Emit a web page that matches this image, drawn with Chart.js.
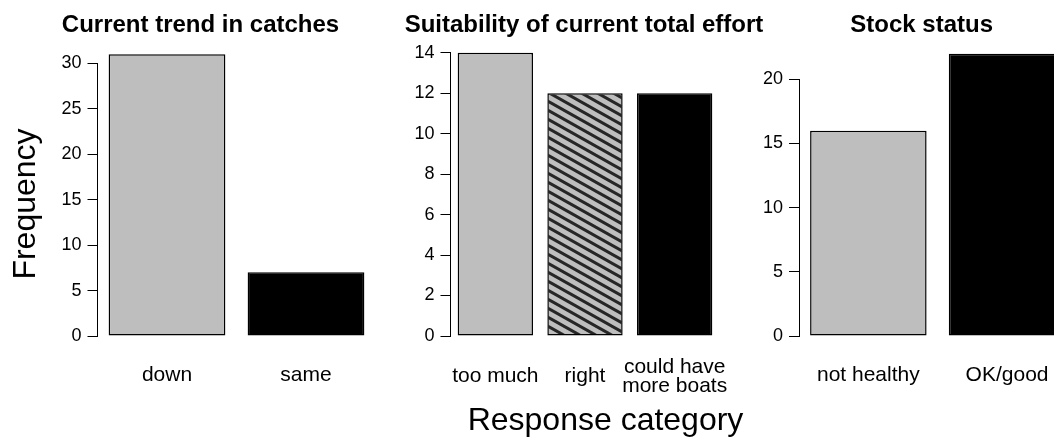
<!DOCTYPE html>
<html>
<head>
<meta charset="utf-8">
<script src="https://cdn.jsdelivr.net/npm/chart.js@4.4.1/dist/chart.umd.min.js"></script>
<style>
  html, body { margin: 0; padding: 0; width: 1054px; height: 439px; overflow: hidden; background: #fff; }
  body { position: relative; font-family: "Liberation Sans", Arial, Helvetica, sans-serif; }
  canvas { position: absolute; top: 0; }
  .axlab { position: absolute; white-space: nowrap; color: #000; font-size: 32px; line-height: 32px; text-align: center; }
</style>
</head>
<body>
<canvas id="c1" width="400" height="439" style="left:0px"></canvas>
<canvas id="c2" width="400" height="439" style="left:400px"></canvas>
<canvas id="c3" width="340" height="439" style="left:740px"></canvas>
<div class="axlab" id="ylab" style="left:-75.6px; top:188px; width:200px; transform: rotate(-90deg);">Frequency</div>
<div class="axlab" id="xlab" style="left:405.5px; top:402.9px; width:400px;">Response category</div>
<script>
// ---- data ----
const catchTitle = 'Current trend in catches';
const catchCategories = ['down', 'same'];
const catchCounts = [31, 7];
const catchTicks = [0, 5, 10, 15, 20, 25, 30];

const effortTitle = 'Suitability of current total effort';
const effortCategories = ['too much', 'right', ['could have', 'more boats']];
const effortCounts = [14, 12, 12];
const effortTicks = [0, 2, 4, 6, 8, 10, 12, 14];

const stockTitle = 'Stock status';
const stockCategories = ['not healthy', 'OK/good'];
const stockCounts = [16, 22];
const stockTicks = [0, 5, 10, 15, 20];

// ---- styles ----
const FONT = '"Liberation Sans", Arial, Helvetica, sans-serif';
const GREY = '#bebebe';
const BLACK = '#000000';

function makeHatch() {
  const w = 16, h = 9;
  const c = document.createElement('canvas');
  c.width = w; c.height = h;
  const g = c.getContext('2d');
  g.fillStyle = GREY;
  g.fillRect(0, 0, w, h);
  g.strokeStyle = '#262626';
  g.lineWidth = 3;
  for (const k of [-1, 0, 1]) {
    g.beginPath();
    g.moveTo(-w + k * w, -h);
    g.lineTo(2 * w + k * w, 2 * h);
    g.stroke();
  }
  return g.createPattern(c, 'repeat');
}
const HATCH = makeHatch();

const rTitlePlugin = {
  id: 'rTitle',
  afterDraw(chart, args, opts) {
    const ctx = chart.ctx;
    ctx.save();
    ctx.font = 'bold 24px ' + FONT;
    ctx.fillStyle = '#000';
    ctx.textAlign = 'center';
    ctx.textBaseline = 'alphabetic';
    ctx.fillText(opts.text, opts.x, opts.y);
    ctx.restore();
  }
};

function buildChart(canvasId, labels, values, colors, tickValues, titleText, L) {
  return new Chart(document.getElementById(canvasId), {
    type: 'bar',
    data: {
      labels: labels,
      datasets: [{
        data: values,
        backgroundColor: colors,
        borderColor: BLACK,
        borderWidth: 1.5,
        borderSkipped: false,
        barPercentage: 0.84,
        categoryPercentage: 1,
        clip: false
      }]
    },
    options: {
      responsive: false,
      animation: false,
      events: [],
      layout: { padding: { left: 0, right: L.padRight, top: L.padTop, bottom: 0 } },
      plugins: {
        legend: { display: false },
        tooltip: { enabled: false },
        title: { display: false },
        rTitle: { text: titleText, x: L.titleX, y: 31.7 }
      },
      scales: {
        x: {
          grid: { display: false, drawTicks: false, tickLength: 0 },
          border: { display: false },
          ticks: {
            color: '#000',
            font: { family: FONT, size: 21, lineHeight: 0.9 },
            padding: L.xPad,
            crossAlign: 'center',
            maxRotation: 0,
            autoSkip: false
          },
          afterFit: s => { s.height = 103; s.paddingLeft = 0; s.paddingRight = 0; }
        },
        y: {
          min: 0,
          max: tickValues[tickValues.length - 1],
          grid: { drawOnChartArea: false, drawTicks: true, tickLength: 10, color: '#000', lineWidth: 1 },
          border: { display: true, color: '#000', width: 1 },
          ticks: { color: '#000', font: { family: FONT, size: 18 }, padding: 6 },
          afterBuildTicks: s => { s.ticks = tickValues.map(v => ({ value: v })); },
          afterFit: s => { s.width = L.yWidth; s.paddingTop = 0; s.paddingBottom = 0; }
        }
      }
    },
    plugins: [rTitlePlugin]
  });
}

buildChart('c1', catchCategories, catchCounts, [GREY, BLACK], catchTicks, catchTitle,
  { padRight: 24.5, padTop: 63.3, yWidth: 97.5, titleX: 200.5, xPad: 38.9 });
buildChart('c2', effortCategories, effortCounts, [GREY, HATCH, BLACK], effortTicks, effortTitle,
  { padRight: 80.5, padTop: 52.7, yWidth: 50.5, titleX: 584 - 400, xPad: 30.9 });
buildChart('c3', stockCategories, stockCounts, [GREY, BLACK], stockTicks, stockTitle,
  { padRight: 3.6, padTop: 79.3, yWidth: 59, titleX: 921.7 - 740, xPad: 38.9 });
</script>
</body>
</html>
